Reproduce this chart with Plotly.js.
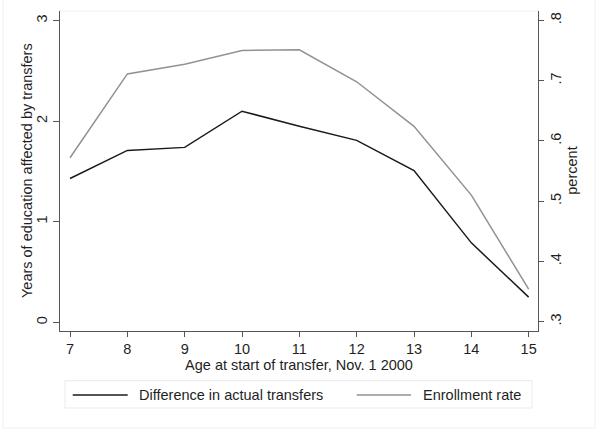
<!DOCTYPE html>
<html>
<head>
<meta charset="utf-8">
<script src="https://cdn.plot.ly/plotly-3.0.1.min.js"></script>
<style>
  html, body { margin: 0; padding: 0; background: #ffffff; }
  #chart { width: 597px; height: 432px; }
</style>
</head>
<body>
<div id="chart"></div>
<script>
// Age at start of transfer (Nov. 1 2000)
const ages = [7, 8, 9, 10, 11, 12, 13, 14, 15];

// Years of education affected by transfers (left axis)
const diffTransfers = [1.43, 1.71, 1.74, 2.10, 1.95, 1.81, 1.51, 0.79, 0.25];

// Enrollment rate, share (right axis)
const enrollRate = [0.572, 0.711, 0.727, 0.750, 0.751, 0.698, 0.624, 0.510, 0.354];

const seriesNames = ["Difference in actual transfers", "Enrollment rate"];
const leftTicks = [0, 1, 2, 3];
const leftTickText = ["0", "1", "2", "3"];
const rightTicks = [0.3, 0.4, 0.5, 0.6, 0.7, 0.8];
const rightTickText = [".3", ".4", ".5", ".6", ".7", ".8"];
const leftTitle = "Years of education affected by transfers";
const rightTitle = "percent";

const FONT = "Liberation Sans, Arial, Helvetica, sans-serif";
const AXIS = "#555555";
const TXT = "#1f1f1f";

const traces = [
  {
    x: ages, y: diffTransfers, name: seriesNames[0],
    type: "scatter", mode: "lines",
    line: { color: "#1a1a1a", width: 1.5 },
    yaxis: "y", showlegend: false, hoverinfo: "skip"
  },
  {
    x: ages, y: enrollRate, name: seriesNames[1],
    type: "scatter", mode: "lines",
    line: { color: "#929292", width: 1.5 },
    yaxis: "y2", showlegend: false, hoverinfo: "skip"
  }
];

// Legend box below the plot, in paper coordinates
const legY = -0.2;
const shapes = [
  // faint top edge of plot region
  { type: "line", xref: "paper", yref: "paper", x0: 0, x1: 1, y0: 1, y1: 1,
    line: { color: "#eef1f4", width: 1 } },
  // legend frame
  { type: "rect", xref: "paper", yref: "paper", x0: 0.0105, x1: 0.9875, y0: -0.2406, y1: -0.1553,
    line: { color: "#e8ebee", width: 1 }, fillcolor: "rgba(0,0,0,0)" },
  // legend samples
  { type: "line", xref: "paper", yref: "paper", x0: 0.0266, x1: 0.1416, y0: legY, y1: legY,
    line: { color: "#1a1a1a", width: 1.5 } },
  { type: "line", xref: "paper", yref: "paper", x0: 0.6207, x1: 0.7343, y0: legY, y1: legY,
    line: { color: "#929292", width: 1.5 } },
  // light outer frame of the graph region
  { type: "line", xref: "paper", yref: "paper", x0: -0.1192, x1: -0.1192, y0: -0.303, y1: 1.034,
    line: { color: "#eef1f4", width: 1 } },
  { type: "line", xref: "paper", yref: "paper", x0: -0.1192, x1: 1.1192, y0: -0.303, y1: -0.303,
    line: { color: "#eef1f4", width: 1 } },
  { type: "line", xref: "paper", yref: "paper", x0: 1.1192, x1: 1.1192, y0: -0.303, y1: 1.034,
    line: { color: "#eef1f4", width: 1 } }
];

const txtFont = { family: FONT, size: 14.5, color: TXT };
const annotations = [
  { xref: "paper", yref: "paper", x: 0.1605, y: legY, xanchor: "left", yanchor: "middle",
    text: seriesNames[0], showarrow: false, font: txtFont },
  { xref: "paper", yref: "paper", x: 0.7552, y: legY, xanchor: "left", yanchor: "middle",
    text: seriesNames[1], showarrow: false, font: txtFont },
  // vertical axis titles
  { xref: "paper", yref: "paper", x: -0.069, y: 0.5, xanchor: "center", yanchor: "middle",
    text: leftTitle, textangle: -90, showarrow: false, font: txtFont },
  { xref: "paper", yref: "paper", x: 1.0705, y: 0.5, xanchor: "center", yanchor: "middle",
    text: rightTitle, textangle: -90, showarrow: false, font: txtFont }
];

const layout = {
  width: 597, height: 432,
  margin: { l: 60, r: 59, t: 11, b: 101 },
  paper_bgcolor: "#ffffff", plot_bgcolor: "#ffffff",
  font: txtFont,
  showlegend: false,
  xaxis: {
    range: [6.825, 15.163], tickvals: ages, ticktext: ages.map(String),
    showgrid: false, zeroline: false,
    showline: true, linecolor: AXIS, linewidth: 1,
    ticks: "outside", ticklen: 5, tickcolor: AXIS, tickwidth: 1,
    tickfont: txtFont,
    title: { text: "Age at start of transfer, Nov. 1 2000", standoff: 2, font: txtFont }
  },
  yaxis: {
    range: [-0.087, 3.097], tickvals: leftTicks, ticktext: leftTickText,
    showgrid: false, zeroline: false,
    showline: true, linecolor: AXIS, linewidth: 1,
    ticks: "outside", ticklen: 6, tickcolor: AXIS, tickwidth: 1,
    tickangle: -90,
    tickfont: txtFont
  },
  yaxis2: {
    range: [0.2846, 0.8154], tickvals: rightTicks, ticktext: rightTickText,
    overlaying: "y", side: "right",
    showgrid: false, zeroline: false,
    showline: true, linecolor: AXIS, linewidth: 1,
    ticks: "outside", ticklen: 5, tickcolor: AXIS, tickwidth: 1,
    tickangle: -90,
    tickfont: txtFont
  },
  shapes: shapes,
  annotations: annotations
};

Plotly.newPlot("chart", traces, layout, { staticPlot: true, displayModeBar: false });
</script>
</body>
</html>
